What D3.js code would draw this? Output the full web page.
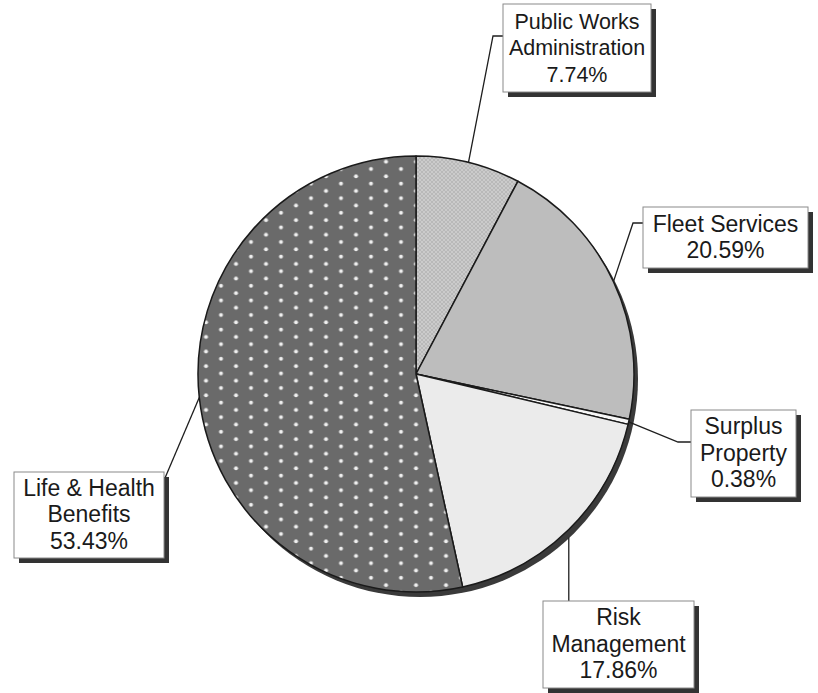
<!DOCTYPE html>
<html>
<head>
<meta charset="utf-8">
<script src="https://cdn.jsdelivr.net/npm/d3@7"></script>
<style>
  html, body { margin: 0; padding: 0; background: #ffffff; }
  svg { display: block; }
  text { font-family: "Liberation Sans", Arial, sans-serif; }
</style>
</head>
<body>
<svg id="chart" width="818" height="693"></svg>
<script>
// Budget share by division (percent)
const categories = [
  "Public Works Administration",
  "Fleet Services",
  "Surplus Property",
  "Risk Management",
  "Life & Health Benefits"
];
const shares = [7.74, 20.59, 0.38, 17.86, 53.43];
// Label lines as printed in each callout
const labelLines = [
  ["Public Works", "Administration"],
  ["Fleet Services"],
  ["Surplus", "Property"],
  ["Risk", "Management"],
  ["Life & Health", "Benefits"]
];

// Callout layout: box rectangle, elbow point of the leader, where it meets the box, text size
const callouts = [
  { x: 503, y: 4,   w: 148, h: 88, elbow: [493, 36],  end: [503, 36],  size: 21.5 },
  { x: 643, y: 207, w: 165, h: 61, elbow: [633, 223], end: [643, 223], size: 23 },
  { x: 691, y: 410, w: 105, h: 87, elbow: [678, 442], end: [691, 442], size: 23 },
  { x: 543, y: 601, w: 151, h: 87, elbow: null,       end: null,       size: 23 },
  { x: 14,  y: 472, w: 150, h: 86, elbow: null,       end: [165, 478], size: 23 }
];

const sliceFills = ["url(#crosshatch)", "#bdbdbd", "#f7f7f7", "#ebebeb", "url(#dots)"];

const svg = d3.select("#chart");
const cx = 416, cy = 374, R = 218;

// Fill patterns
const defs = svg.append("defs");
const hatch = defs.append("pattern")
  .attr("id", "crosshatch").attr("patternUnits", "userSpaceOnUse")
  .attr("width", 4).attr("height", 4);
hatch.append("rect").attr("width", 4).attr("height", 4).attr("fill", "#cbcbcb");
hatch.append("path").attr("d", "M0,0L4,4M4,0L0,4")
  .attr("stroke", "#b5b5b5").attr("stroke-width", 0.8);

const dots = defs.append("pattern")
  .attr("id", "dots").attr("patternUnits", "userSpaceOnUse")
  .attr("x", 7.5).attr("y", 10.35)
  .attr("width", 30).attr("height", 14.6);
dots.append("rect").attr("width", 30).attr("height", 14.6).attr("fill", "#6a6a6a");
dots.append("circle").attr("cx", 7.5).attr("cy", 3.65).attr("r", 2).attr("fill", "#f0f0f0");
dots.append("circle").attr("cx", 22.5).attr("cy", 10.95).attr("r", 2).attr("fill", "#f0f0f0");

const pie = d3.pie().sort(null).value(d => d)
  .startAngle(0).endAngle(2 * Math.PI);
const arcs = pie(shares);
const arc = d3.arc().innerRadius(0).outerRadius(R);

const g = svg.append("g").attr("transform", `translate(${cx},${cy})`);

// Drop shadow beneath the pie
g.append("circle").attr("cx", 4).attr("cy", 5).attr("r", R)
  .attr("fill", "#3a3a3a");

g.selectAll("path.slice")
  .data(arcs)
  .join("path")
  .attr("class", "slice")
  .attr("d", arc)
  .attr("fill", (d, i) => sliceFills[i])
  .attr("stroke", "#1a1a1a")
  .attr("stroke-width", 1.5)
  .attr("stroke-linejoin", "round");

// Leader lines from each slice's mid-angle on the rim to its callout
const rimPoint = d => {
  const a = (d.startAngle + d.endAngle) / 2;
  return [cx + R * Math.sin(a), cy - R * Math.cos(a)];
};

arcs.forEach((d, i) => {
  const c = callouts[i];
  const p0 = rimPoint(d);
  let pts;
  if (c.elbow) {
    pts = [p0, c.elbow, c.end];
  } else if (c.end) {
    pts = [p0, c.end];
  } else {
    // straight drop to the top edge of the box
    pts = [[p0[0], p0[1] + 8], [p0[0], c.y]];
  }
  svg.append("path")
    .attr("d", d3.line()(pts))
    .attr("fill", "none")
    .attr("stroke", "#1e1e1e")
    .attr("stroke-width", 1.3);
});

// Callout boxes
const fmt = d3.format(".2f");
const lineH = 26.5;
arcs.forEach((d, i) => {
  const c = callouts[i];
  const box = svg.append("g");
  box.append("rect")
    .attr("x", c.x + 5).attr("y", c.y + 5)
    .attr("width", c.w).attr("height", c.h)
    .attr("fill", "#333333");
  box.append("rect")
    .attr("x", c.x).attr("y", c.y)
    .attr("width", c.w).attr("height", c.h)
    .attr("fill", "#ffffff")
    .attr("stroke", "#8a8a8a").attr("stroke-width", 1);
  const lines = labelLines[i].concat([fmt(shares[i]) + "%"]);
  const total = lines.length * lineH;
  const top = c.y + (c.h - total) / 2;
  box.selectAll("text")
    .data(lines)
    .join("text")
    .attr("x", c.x + c.w / 2)
    .attr("y", (t, j) => top + j * lineH + lineH * 0.78)
    .attr("text-anchor", "middle")
    .attr("font-size", c.size)
    .attr("fill", "#1a1a1a")
    .text(t => t);
});
</script>
</body>
</html>
